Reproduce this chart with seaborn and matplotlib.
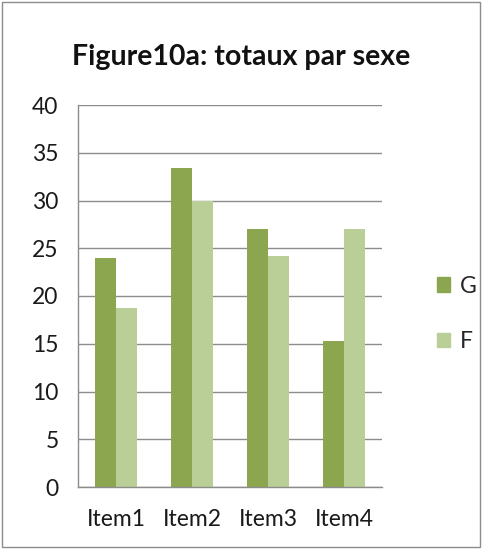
import matplotlib
matplotlib.use("Agg")
import matplotlib.pyplot as plt
import seaborn as sns
import pandas as pd
from matplotlib.patches import Rectangle

categories = ["Item1", "Item2", "Item3", "Item4"]
series_names = ["G", "F"]
values_G = [24.0, 33.4, 27.0, 15.3]
values_F = [18.7, 30.0, 24.2, 27.0]
y_ticks = [0, 5, 10, 15, 20, 25, 30, 35, 40]
title = "Figure10a: totaux par sexe"

df = pd.DataFrame({
    "item": categories * 2,
    "sexe": [series_names[0]] * 4 + [series_names[1]] * 4,
    "val": values_G + values_F,
})

sns.set_theme(style="white")
plt.rcParams["font.family"] = ["Lato", "DejaVu Sans"]

fig = plt.figure(figsize=(4.83, 5.49), dpi=100)
ax = fig.add_axes([78 / 483, 1 - 487 / 549, (382 - 78) / 483, (487 - 105) / 549])

palette = {"G": "#8BA64F", "F": "#BACF97"}
sns.barplot(data=df, x="item", y="val", hue="sexe", palette=palette,
            width=0.56, gap=0, ax=ax, legend=False, saturation=1,
            linewidth=0, edgecolor="none")

ax.set_ylim(0, 40)
ax.set_yticks(y_ticks)
ax.set_yticklabels([str(t) for t in y_ticks], fontsize=16.5, color="#1a1a1a")
ax.set_xticklabels(categories, fontsize=16.5, color="#1a1a1a")
ax.set_xlabel("")
ax.set_ylabel("")
ax.tick_params(axis="y", pad=14, length=0)
ax.tick_params(axis="x", pad=16, length=0)
ax.yaxis.grid(True, color="#8c8c8c", linewidth=1)
ax.set_axisbelow(True)
for s in ["top", "right"]:
    ax.spines[s].set_visible(False)
for s in ["left", "bottom"]:
    ax.spines[s].set_color("#8c8c8c")
    ax.spines[s].set_linewidth(1)

fig.text(0.5, 1 - 57 / 549, title, ha="center", va="center",
         fontsize=20.5, fontweight="bold", color="#111111")

handles = [Rectangle((0, 0), 1, 1, color=palette[n]) for n in series_names]
leg = fig.legend(handles, series_names, loc="center left",
                 bbox_to_anchor=(416 / 483, 1 - 314 / 549), frameon=False,
                 fontsize=16.5, handlelength=0.6, handleheight=0.6,
                 handletextpad=0.4, labelspacing=1.5)

fig.patches.append(Rectangle((2 / 483, 2 / 549), 478 / 483, 545 / 549,
                             transform=fig.transFigure, fill=False,
                             edgecolor="#8c8c8c", linewidth=1))

fig.savefig("out.png", dpi=100, facecolor="white")
